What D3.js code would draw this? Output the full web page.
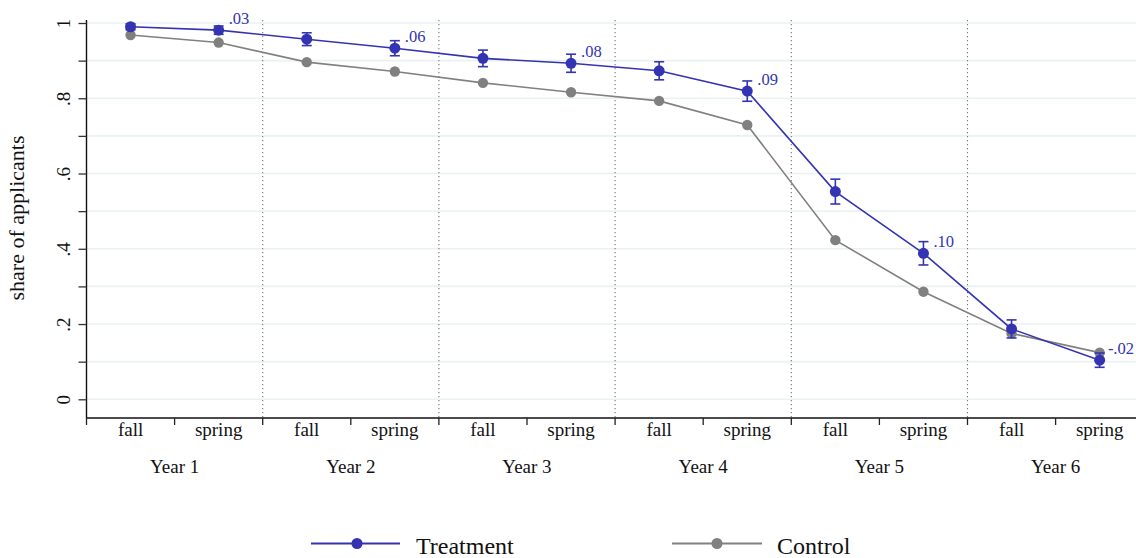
<!DOCTYPE html>
<html>
<head>
<meta charset="utf-8">
<script src="https://cdn.jsdelivr.net/npm/d3@7"></script>
<style>
  html, body { margin: 0; padding: 0; background: #fff; }
  svg { display: block; }
  svg text { font-family: "Liberation Serif", "Times New Roman", serif; }
</style>
</head>
<body>
<svg id="chart" width="1136" height="558"></svg>
<script>
// Survey waves: two terms per year
const years = ["Year 1", "Year 2", "Year 3", "Year 4", "Year 5", "Year 6"];
const terms = ["fall", "spring"];

// Share of applicants still enrolled, by wave
const treatment = [0.990, 0.981, 0.957, 0.933, 0.906, 0.893, 0.873, 0.819, 0.552, 0.388, 0.187, 0.104];
const control   = [0.968, 0.948, 0.896, 0.871, 0.841, 0.816, 0.793, 0.729, 0.423, 0.286, 0.175, 0.124];
// Half-width of the treatment confidence interval
const ciHalf    = [0.008, 0.011, 0.017, 0.020, 0.022, 0.024, 0.024, 0.027, 0.033, 0.031, 0.024, 0.019];

// Treatment - control difference, reported at each spring wave
const diffLabels = [".03", ".06", ".08", ".09", ".10", "-.02"];

// Y axis ticks
const yMajor = [0, 0.2, 0.4, 0.6, 0.8, 1];
const yMajorLabels = ["0", ".2", ".4", ".6", ".8", "1"];
const yGrid = [0, 0.1, 0.2, 0.3, 0.4, 0.5, 0.6, 0.7, 0.8, 0.9, 1];

const legendItems = ["Treatment", "Control"];

const blue = "#3434b2";
const gray = "#808080";
const serif = "Liberation Serif, Times New Roman, serif";
const W = 1136, H = 558;

const svg = d3.select("#chart");
svg.append("rect").attr("width", W).attr("height", H).attr("fill", "#fff");

const waves = d3.range(years.length * terms.length);
const plotLeft = 86.5, plotRight = 1143.7, plotTop = 20, axisY = 418;

const x = d3.scaleBand().domain(waves).range([plotLeft, plotRight]).padding(0);
const cx = i => x(i) + x.bandwidth() / 2;
const y = d3.scaleLinear().domain([0, 1]).range([399.3, 23]);

// Horizontal grid lines
svg.append("g").selectAll("line").data(yGrid).join("line")
  .attr("x1", plotLeft).attr("x2", plotRight)
  .attr("y1", d => y(d)).attr("y2", d => y(d))
  .attr("stroke", "#eaf1f3").attr("stroke-width", 1.6);

// Dotted separators between years
svg.append("g").selectAll("line").data(d3.range(1, years.length)).join("line")
  .attr("x1", d => x(d * 2)).attr("x2", d => x(d * 2))
  .attr("y1", plotTop).attr("y2", axisY)
  .attr("stroke", "#777").attr("stroke-width", 1.1)
  .attr("stroke-dasharray", "1.2,2.8");

// Y axis
const yAxis = d3.axisLeft(y).tickValues(yGrid).tickSize(8).tickFormat(d => {
  const k = yMajor.findIndex(v => Math.abs(v - d) < 1e-9);
  return k >= 0 ? yMajorLabels[k] : "";
});
const gy = svg.append("g").attr("transform", `translate(${plotLeft},0)`).call(yAxis)
  .attr("font-family", serif);
gy.select(".domain").attr("d", `M0,${plotTop}V${axisY}`).attr("stroke", "#111").attr("stroke-width", 1.4);
gy.selectAll(".tick line").attr("stroke", "#333").attr("stroke-width", 1.3);
gy.selectAll(".tick text")
  .attr("font-family", serif)
  .attr("font-size", 19).attr("fill", "#111")
  .attr("x", null).attr("dy", null)
  .attr("text-anchor", "middle")
  .attr("transform", "translate(-17,0) rotate(-90)");

// Y axis title
svg.append("text")
  .attr("transform", "translate(24,218) rotate(-90)")
  .attr("text-anchor", "middle")
  .attr("font-family", serif)
  .attr("font-size", 22).attr("fill", "#111")
  .text("share of applicants");

// X axis: term ticks at band edges
const gx = svg.append("g").attr("font-family", serif);
gx.append("line").attr("x1", plotLeft).attr("x2", plotRight)
  .attr("y1", axisY).attr("y2", axisY)
  .attr("stroke", "#111").attr("stroke-width", 1.4);
gx.selectAll("line.tick").data(d3.range(waves.length + 1)).join("line")
  .attr("class", "tick")
  .attr("x1", d => plotLeft + d * x.bandwidth()).attr("x2", d => plotLeft + d * x.bandwidth())
  .attr("y1", axisY).attr("y2", axisY + 7)
  .attr("stroke", "#222").attr("stroke-width", 1.3);
gx.selectAll("text.term").data(waves).join("text")
  .attr("class", "term")
  .attr("x", d => cx(d)).attr("y", 436)
  .attr("text-anchor", "middle")
  .attr("font-size", 19).attr("fill", "#111")
  .text(d => terms[d % 2]);
gx.selectAll("text.year").data(years).join("text")
  .attr("class", "year")
  .attr("x", (d, i) => x(i * 2 + 1)).attr("y", 473)
  .attr("text-anchor", "middle")
  .attr("font-size", 19).attr("fill", "#111")
  .text(d => d);

const line = d3.line().x((d, i) => cx(i)).y(d => y(d));

// Control series
svg.append("path").datum(control)
  .attr("d", line).attr("fill", "none")
  .attr("stroke", gray).attr("stroke-width", 1.6);
svg.append("g").selectAll("circle").data(control).join("circle")
  .attr("cx", (d, i) => cx(i)).attr("cy", d => y(d)).attr("r", 5.2)
  .attr("fill", gray);

// Treatment series
svg.append("path").datum(treatment)
  .attr("d", line).attr("fill", "none")
  .attr("stroke", blue).attr("stroke-width", 1.6);

// Confidence intervals
const ci = svg.append("g").attr("stroke", blue).attr("stroke-width", 1.6);
treatment.forEach((v, i) => {
  const lo = y(v - ciHalf[i]), hi = y(v + ciHalf[i]), xc = cx(i);
  ci.append("line").attr("x1", xc).attr("x2", xc).attr("y1", lo).attr("y2", hi);
  ci.append("line").attr("x1", xc - 5).attr("x2", xc + 5).attr("y1", lo).attr("y2", lo);
  ci.append("line").attr("x1", xc - 5).attr("x2", xc + 5).attr("y1", hi).attr("y2", hi);
});

svg.append("g").selectAll("circle").data(treatment).join("circle")
  .attr("cx", (d, i) => cx(i)).attr("cy", d => y(d)).attr("r", 5.5)
  .attr("fill", blue);

// Difference labels next to each spring wave, kept inside the canvas
svg.append("g").attr("font-family", serif).selectAll("text").data(diffLabels).join("text")
  .attr("y", (d, i) => y(treatment[i * 2 + 1]) - 6)
  .attr("font-size", 16.5).attr("fill", blue)
  .text(d => d)
  .attr("x", function (d, i) {
    const w = this.getComputedTextLength();
    return Math.min(cx(i * 2 + 1) + 10, W - 2 - w);
  });

// Legend
const legend = svg.append("g").attr("font-family", serif);
const legendPos = [{ x0: 311, x1: 400, m: 357, t: 416, c: blue }, { x0: 672, x1: 762, m: 717, t: 777, c: gray }];
legendItems.forEach((name, i) => {
  const p = legendPos[i];
  legend.append("line").attr("x1", p.x0).attr("x2", p.x1).attr("y1", 543.5).attr("y2", 543.5)
    .attr("stroke", p.c).attr("stroke-width", 1.8);
  legend.append("circle").attr("cx", p.m).attr("cy", 543.5).attr("r", 5.5).attr("fill", p.c);
  legend.append("text").attr("x", p.t).attr("y", 553.5)
    .attr("font-size", 24).attr("fill", "#111").text(name);
});
</script>
</body>
</html>
